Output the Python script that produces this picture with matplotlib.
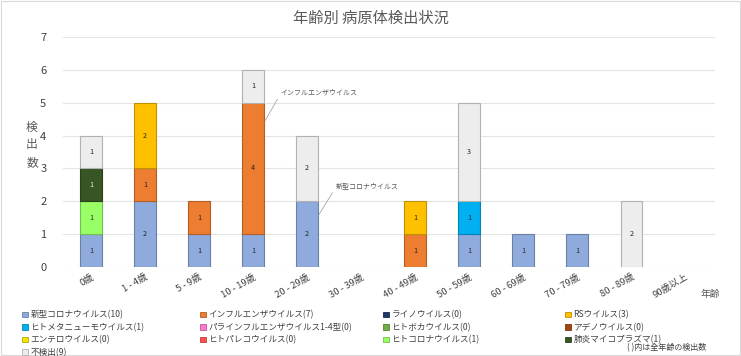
import matplotlib
matplotlib.use('Agg')

import numpy as np
import matplotlib.pyplot as plt
from matplotlib.patches import Patch, Rectangle
from matplotlib.colors import to_rgb

plt.rcParams['font.family'] = ['Noto Sans CJK JP', 'DejaVu Sans']

# -------------------------
# Data
# -------------------------
ages = ["0歳", "1 - 4歳", "5 - 9歳", "10 - 19歳", "20 - 29歳", "30 - 39歳",
        "40 - 49歳", "50 - 59歳", "60 - 69歳", "70 - 79歳", "80 - 89歳", "90歳以上"]

covid      = [1, 2, 1, 1, 2, 0, 0, 1, 1, 1, 0, 0]
influenza  = [0, 1, 1, 4, 0, 0, 1, 0, 0, 0, 0, 0]
rhino      = [0] * 12
rsv        = [0, 2, 0, 0, 0, 0, 1, 0, 0, 0, 0, 0]
hmpv       = [0, 0, 0, 0, 0, 0, 0, 1, 0, 0, 0, 0]
parainfl   = [0] * 12
boca       = [0] * 12
adeno      = [0] * 12
entero     = [0] * 12
pareco     = [0] * 12
hcov       = [1, 0, 0, 0, 0, 0, 0, 0, 0, 0, 0, 0]
mycoplasma = [1, 0, 0, 0, 0, 0, 0, 0, 0, 0, 0, 0]
negative   = [1, 0, 0, 1, 2, 0, 0, 3, 0, 0, 2, 0]

names = ["新型コロナウイルス", "インフルエンザウイルス", "ライノウイルス", "RSウイルス",
         "ヒトメタニューモウイルス", "パラインフルエンザウイルス1-4型", "ヒトボカウイルス",
         "アデノウイルス", "エンテロウイルス", "ヒトパレコウイルス", "ヒトコロナウイルス",
         "肺炎マイコプラズマ", "不検出"]
series = [covid, influenza, rhino, rsv, hmpv, parainfl, boca, adeno,
          entero, pareco, hcov, mycoplasma, negative]
colors = ["#8FAADC", "#ED7D31", "#203864", "#FFC000", "#00B0F0", "#FF77D0",
          "#70AD47", "#9E480E", "#F2E600", "#FF5050", "#99FF66", "#375623", "#EDEDED"]

def darker(c, f=0.75):
    r, g, b = to_rgb(c)
    return (r * f, g * f, b * f)

# -------------------------
# Plot
# -------------------------
fig = plt.figure(figsize=(7.41, 3.56), dpi=100)
ax = fig.add_axes([0.085, 0.25, 0.88, 0.646])

x = np.arange(len(ages))
bottom = np.zeros(len(ages))
for name, vals, col in zip(names, series, colors):
    vals = np.array(vals, dtype=float)
    m = vals > 0
    if m.any():
        bars = ax.bar(x[m], vals[m], bottom=bottom[m], width=0.4, color=col,
                      edgecolor=darker(col), linewidth=0.8, zorder=3)
        txt_col = "#E8E8E8" if sum(to_rgb(col)) < 1.0 else "#262626"
        ax.bar_label(bars, labels=[f"{int(v)}" for v in vals[m]],
                     label_type='center', fontsize=5.2, color=txt_col)
    bottom += vals

ax.set_xlim(-0.52, 11.55)
ax.set_ylim(0, 7)
ax.set_yticks(range(8))
ax.tick_params(axis='y', length=0, labelsize=8, labelcolor="#404040", pad=12)
ax.tick_params(axis='x', length=0, labelsize=6.8, labelcolor="#404040", pad=4)
ax.set_xticks(x)
ax.set_xticklabels(ages, rotation=30, ha='right', rotation_mode='anchor')
ax.grid(axis='y', color="#E4E4E4", linewidth=0.8, zorder=0)
for s in ax.spines.values():
    s.set_visible(False)

# callouts
ax.annotate("インフルエンザウイルス", xy=(3.22, 4.45), xytext=(3.5, 5.3),
            fontsize=5, color="#595959", ha='left', va='center',
            arrowprops=dict(arrowstyle='-', color="#A6A6A6", lw=0.6,
                            shrinkA=0, shrinkB=0, relpos=(0, 0.3)))
ax.annotate("新型コロナウイルス", xy=(4.22, 1.6), xytext=(4.52, 2.45),
            fontsize=5, color="#595959", ha='left', va='center',
            arrowprops=dict(arrowstyle='-', color="#A6A6A6", lw=0.6,
                            shrinkA=0, shrinkB=0, relpos=(0, 0.3)))

fig.text(0.5, 1 - 18 / 356, "年齢別 病原体検出状況", ha='center', va='center',
         fontsize=11, color="#595959")
fig.text(32 / 741, 1 - 145 / 356, "検\n出\n数", ha='center', va='center',
         fontsize=8.5, color="#595959", linespacing=1.5)
fig.text(710 / 741, 1 - 294 / 356, "年齢", ha='center', va='center',
         fontsize=7, color="#595959")
fig.text(706 / 741, 1 - 348 / 356, "( )内は全年齢の検出数", ha='right', va='center',
         fontsize=5.8, color="#404040")

# legend, 4 columns in row order
totals = [sum(v) for v in series]
handles = [Patch(facecolor=c, edgecolor=darker(c), linewidth=0.6) for c in colors]
labels = [f"{n}({t})" for n, t in zip(names, totals)]
col_x = [18, 196, 379, 561]
for ci, cx in enumerate(col_x):
    idx = list(range(ci, len(names), 4))
    fig.legend([handles[i] for i in idx], [labels[i] for i in idx],
               loc='upper left', bbox_to_anchor=(cx / 741, 1 - 306 / 356),
               frameon=False, fontsize=6.2, handlelength=0.65, handleheight=0.65,
               handletextpad=0.3, labelspacing=0.4, borderpad=0,
               labelcolor="#404040")

fig.patches.append(Rectangle((0.001, 0.002), 0.997, 0.995, transform=fig.transFigure,
                             fill=False, edgecolor="#D9D9D9", linewidth=0.8))

plt.savefig("out.png", dpi=100)
